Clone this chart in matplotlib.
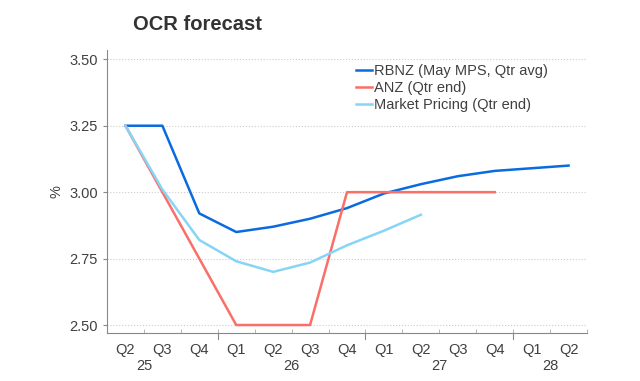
import numpy as np
import matplotlib
matplotlib.use('Agg')
from matplotlib import pyplot as plt
from matplotlib.ticker import FixedLocator

plt.rcParams['font.family'] = ['Liberation Sans', 'DejaVu Sans']

####

quarters = ['Q2', 'Q3', 'Q4', 'Q1', 'Q2', 'Q3', 'Q4', 'Q1', 'Q2', 'Q3', 'Q4', 'Q1', 'Q2']
years = ['25', '26', '27', '28']
year_pos = [0.5, 4.5, 8.5, 11.5]   # centre of each year group, in category units

rbnz = [3.25, 3.25, 2.92, 2.85, 2.87, 2.90, 2.94, 2.995, 3.03, 3.06, 3.08, 3.09, 3.10]
anz = [3.25, 3.00, 2.75, 2.50, 2.50, 2.50, 3.00, 3.00, 3.00, 3.00, 3.00]
market = [3.25, 3.01, 2.82, 2.74, 2.70, 2.735, 2.80, 2.855, 2.915]

####

fig = plt.figure(figsize=(6.4, 3.81), dpi=100)
ax = fig.add_axes([107/640, 1 - 333/381, 480/640, 283/381])

ax.plot(np.arange(len(rbnz)), rbnz, color='#0A6BE0', lw=1.8, label='RBNZ (May MPS, Qtr avg)')
ax.plot(np.arange(len(anz)), anz, color='#FA6F67', lw=1.8, label='ANZ (Qtr end)')
ax.plot(np.arange(len(market)), market, color='#86D5F6', lw=1.8, label='Market Pricing (Qtr end)')

ax.set_xlim(-0.5, len(quarters) - 0.5)
ax.set_ylim(2.47, 3.535)
ax.set_yticks([2.50, 2.75, 3.00, 3.25, 3.50])
ax.set_yticklabels(['2.50', '2.75', '3.00', '3.25', '3.50'])
ax.grid(axis='y', color='#cccccc', ls=':', lw=0.8)

ax.set_xticks(np.arange(len(quarters)))
ax.set_xticklabels(quarters)
ax.tick_params(axis='x', length=0, pad=7, labelsize=10.5, labelcolor='#404040')
ax.tick_params(axis='y', length=3, color='#888888', labelsize=10.5, labelcolor='#404040')
# boundary ticks between quarters and longer ones between years
ax.xaxis.set_minor_locator(FixedLocator(np.arange(len(quarters) + 1) - 0.5))
ax.tick_params(axis='x', which='minor', length=3, direction='in', color='#aaaaaa')
for b in [2.5, 6.5, 10.5]:
    ax.plot([b, b], [0, -0.02], transform=ax.get_xaxis_transform(), color='#888888',
            lw=0.8, clip_on=False)

for y, p in zip(years, year_pos):
    ax.text(p, -0.093, y, transform=ax.get_xaxis_transform(), ha='center', va='top',
            fontsize=10.5, color='#404040')

for s in ['top', 'right']:
    ax.spines[s].set_visible(False)
ax.spines['left'].set_color('#888888')
ax.spines['bottom'].set_color('#888888')

ax.set_ylabel('%', fontsize=10.5, color='#404040', labelpad=4)

fig.text(133/640, 1 - 25/381, 'OCR forecast', fontsize=14.5, fontweight='bold',
         color='#333333', va='center', ha='left')

ax.legend(loc='upper left', bbox_to_anchor=(350/640, 1 - 58/381),
          bbox_transform=fig.transFigure, frameon=False, fontsize=10.5,
          handlelength=1.1, handletextpad=0.15, labelspacing=0.2,
          borderaxespad=0, labelcolor='#404040')

plt.savefig('out.png', dpi=100)
